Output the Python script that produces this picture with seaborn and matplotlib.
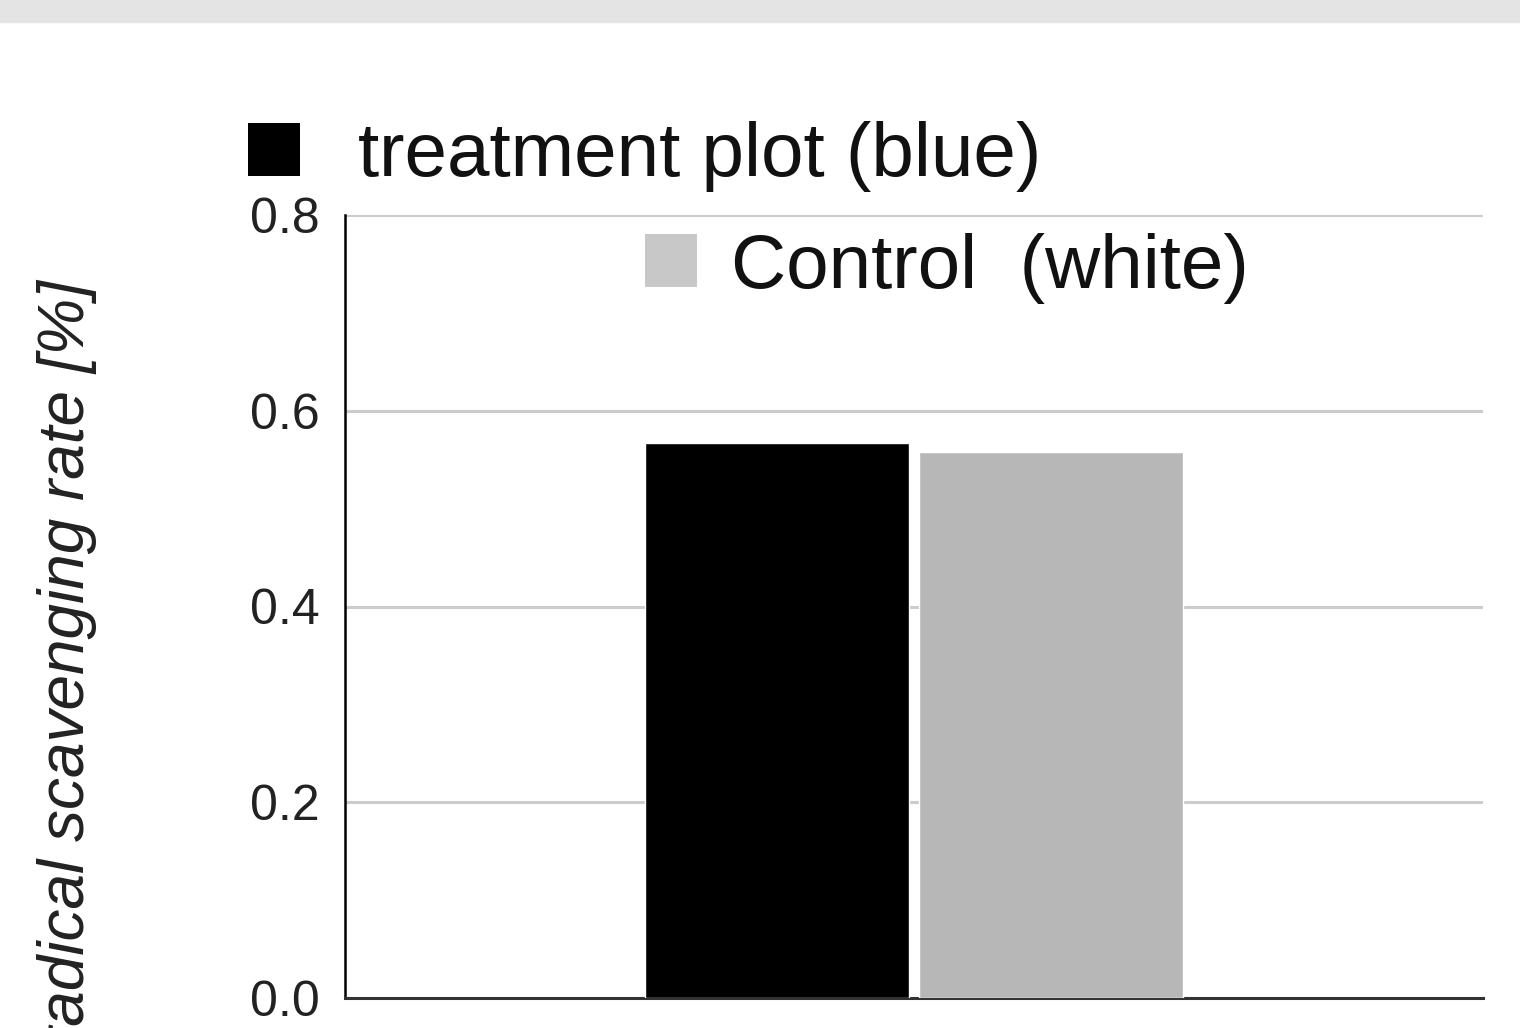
import matplotlib
matplotlib.use("Agg")
import matplotlib.pyplot as plt
import matplotlib.patches as mpatches
import pandas as pd
import seaborn as sns

# -----------------------
# Data
# -----------------------
categories = [""]
groups = ["treatment plot (blue)", "Control  (white)"]
values = [0.567, 0.558]
bar_colors = ["#000000", "#b7b7b7"]
legend_colors = ["#000000", "#c8c8c8"]
y_ticks = [0.0, 0.2, 0.4, 0.6, 0.8]
y_label = "radical scavenging rate [%]"

df = pd.DataFrame({
    "category": categories * len(groups),
    "group": groups,
    "value": values,
})

# -----------------------
# Figure
# -----------------------
sns.set_style("white")
plt.rcParams["font.family"] = ["Liberation Sans", "DejaVu Sans"]

W, H = 1520, 1028
fig = plt.figure(figsize=(W / 100, H / 100), dpi=100)
ax = fig.add_axes([345 / W, 1 - 998 / H, (1483 - 345) / W, (998 - 215) / H])

# grey band at the very top
fig.patches.append(mpatches.Rectangle((0, 1 - 22 / H), 1, 22 / H,
                                      transform=fig.transFigure,
                                      color="#e4e4e4", zorder=0))

sns.barplot(data=df, x="category", y="value", hue="group",
            palette=dict(zip(groups, bar_colors)), width=0.4824, gap=0.04,
            saturation=1, legend=False, ax=ax, zorder=3)

ax.set_ylim(0, 0.8)
ax.set_xlim(-0.5, 0.5)
ax.set_yticks(y_ticks)
ax.set_yticklabels([f"{t:.1f}" for t in y_ticks], fontsize=36, color="#222222")
ax.tick_params(axis="y", length=0, pad=18)
ax.tick_params(axis="x", length=0, labelbottom=False)
ax.set_xlabel("")
ax.grid(axis="y", color="#cccccc", linewidth=2.2, zorder=0)
ax.set_axisbelow(True)

for side in ["top", "right"]:
    ax.spines[side].set_visible(False)
ax.spines["left"].set_color("#000000")
ax.spines["left"].set_linewidth(1.8)
ax.spines["bottom"].set_color("#333333")
ax.spines["bottom"].set_linewidth(2.2)

# y label, runs off the bottom of the figure
ax.set_ylabel(y_label, fontsize=46, style="italic", color="#222222",
              ha="right")
ax.yaxis.set_label_coords(97 / W, 1 - 280 / H, transform=fig.transFigure)

# -----------------------
# Legend: two entries placed separately (wrapped layout)
# -----------------------
legend_pos = [(248, 157), (645, 268)]
text_pads = [0.76, 0.45]
for name, color, (lx, ly), pad in zip(groups, legend_colors, legend_pos, text_pads):
    handle = mpatches.Patch(facecolor=color, edgecolor="none", label=name)
    leg = fig.legend(handles=[handle], loc="center left",
                     bbox_to_anchor=(lx / W, 1 - ly / H),
                     frameon=False, fontsize=55, handlelength=0.68,
                     handleheight=0.68, handletextpad=pad,
                     borderpad=0, borderaxespad=0)
    for t in leg.get_texts():
        t.set_color("#111111")

fig.savefig("out.png", dpi=100)
